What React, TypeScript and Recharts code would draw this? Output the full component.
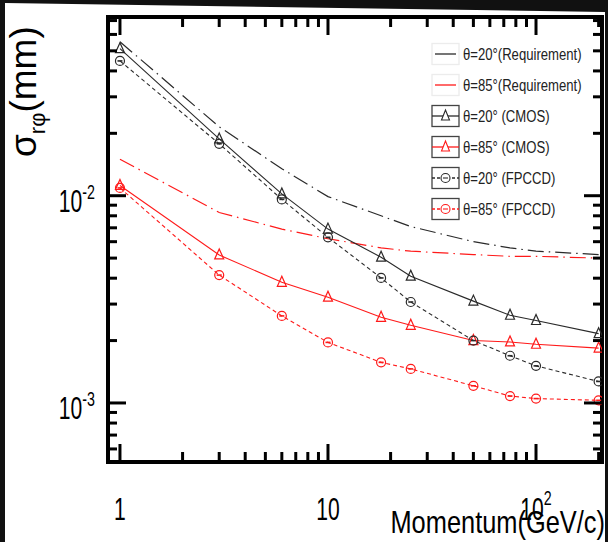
import React from 'react'
import { LineChart, Line, XAxis, YAxis, ReferenceArea } from 'recharts'

const momentum = [1, 3, 6, 10, 18, 25, 50, 75, 100, 200]
const req20 = [0.0553, 0.0215, 0.0135, 0.0099, 0.008, 0.0071, 0.006, 0.0056, 0.0054, 0.0052]
const req85 = [0.015, 0.0083, 0.0069, 0.0062, 0.0056, 0.0054, 0.0052, 0.0051, 0.0051, 0.005]
const cmos20 = [0.0512, 0.0188, 0.0102, 0.0069, 0.00505, 0.00409, 0.0031, 0.00265, 0.0025, 0.00216]
const cmos85 = [0.0112, 0.00518, 0.00382, 0.00324, 0.00259, 0.00237, 0.002, 0.00197, 0.00192, 0.00184]
const fpccd20 = [0.0447, 0.0178, 0.0096, 0.0063, 0.00401, 0.00307, 0.002, 0.00169, 0.00151, 0.00127]
const fpccd85 = [0.0109, 0.00414, 0.00263, 0.00196, 0.00157, 0.00146, 0.00121, 0.00108, 0.00105, 0.00103]

const xTicks = [1, 2, 3, 4, 5, 6, 7, 8, 9, 10, 20, 30, 40, 50, 60, 70, 80, 90, 100, 200]
const xLabels: Record<number, string[]> = { 1: ['1'], 10: ['10'], 100: ['10', '2'] }
const yTicks = [
  0.0006, 0.0007, 0.0008, 0.0009, 0.001, 0.002, 0.003, 0.004, 0.005, 0.006, 0.007, 0.008, 0.009,
  0.01, 0.02, 0.03, 0.04, 0.05, 0.06, 0.07,
]
const yLabels: Record<number, string[]> = { 0.001: ['10', '-3'], 0.01: ['10', '-2'] }

const legendLabels = [
  'θ=20°(Requirement)',
  'θ=85°(Requirement)',
  'θ=20° (CMOS)',
  'θ=85° (CMOS)',
  'θ=20° (FPCCD)',
  'θ=85° (FPCCD)',
]

const data = momentum.map((p, i) => ({
  p,
  req20: req20[i],
  req85: req85[i],
  cmos20: cmos20[i],
  cmos85: cmos85[i],
  fpccd20: fpccd20[i],
  fpccd85: fpccd85[i],
}))

const W = 608
const H = 542
const M = { top: 17, right: 6, bottom: 40, left: 48 }
const PLOT_TOP = M.top
const PLOT_RIGHT = W - M.right
const X_DOMAIN: [number, number] = [0.876, 207.6]
const Y_DOMAIN: [number, number] = [0.000519, 0.07282]

const BLACK = '#2a2a2a'
const RED = '#ff1a1a'
const SANS = "'Liberation Sans', Arial, sans-serif"
const REQ_DASH = '16 5 1.5 5'
const FP_DASH = '4 3'

// helvetica-narrow look: liberation sans squeezed horizontally
function NText({ x, y, sx, anchor, size, fill, children }: any) {
  return (
    <g transform={`translate(${x},${y}) scale(${sx},1)`}>
      <text x={0} y={0} textAnchor={anchor || 'start'} fontFamily={SANS} fontSize={size} fill={fill || '#000'}>
        {children}
      </text>
    </g>
  )
}

function XTick(props: any) {
  const { x, y, payload } = props
  const v = payload.value
  const lab = xLabels[v]
  const len = lab ? 18 : 10
  return (
    <g>
      <line x1={x} x2={x} y1={y} y2={y - len} stroke="#000" strokeWidth={3} />
      <line x1={x} x2={x} y1={PLOT_TOP} y2={PLOT_TOP + len} stroke="#000" strokeWidth={3} />
      {lab && (
        <NText x={x} y={y + 58} sx={0.68} anchor="middle" size={31}>
          {lab[0]}
          {lab[1] && <tspan dy={-15} fontSize={21}>{lab[1]}</tspan>}
        </NText>
      )}
    </g>
  )
}

function YTick(props: any) {
  const { x, y, payload } = props
  const v = payload.value
  const lab = yLabels[v]
  const len = lab ? 18 : 9
  return (
    <g>
      <line x1={x} x2={x + len} y1={y} y2={y} stroke="#000" strokeWidth={3} />
      <line x1={PLOT_RIGHT} x2={PLOT_RIGHT - len} y1={y} y2={y} stroke="#000" strokeWidth={3} />
      {lab && (
        <NText x={x - 13} y={y + 16} sx={0.68} anchor="end" size={31}>
          {lab[0]}
          <tspan dy={-13} fontSize={21}>{lab[1]}</tspan>
        </NText>
      )}
    </g>
  )
}

function tri(color: string) {
  return (p: any) => {
    const { cx, cy, index } = p
    if (cx == null || cy == null) return <g key={index} />
    return (
      <polygon key={index} points={`${cx},${cy - 6} ${cx - 4.5},${cy + 4} ${cx + 4.5},${cy + 4}`}
        fill="none" stroke={color} strokeWidth={1.2} />
    )
  }
}

function circ(color: string) {
  return (p: any) => {
    const { cx, cy, index } = p
    if (cx == null || cy == null) return <g key={index} />
    return (
      <g key={index}>
        <circle cx={cx} cy={cy} r={4.5} fill="none" stroke={color} strokeWidth={1.2} />
        <line x1={cx - 2.5} x2={cx + 2.5} y1={cy} y2={cy} stroke={color} strokeWidth={1.6} />
      </g>
    )
  }
}

function Legend() {
  const rows = [
    { color: BLACK, dash: REQ_DASH, marker: '', box: '#ececec' },
    { color: RED, dash: REQ_DASH, marker: '', box: '#ececec' },
    { color: BLACK, dash: '', marker: 'tri', box: '#444' },
    { color: RED, dash: '', marker: 'tri', box: '#444' },
    { color: BLACK, dash: FP_DASH, marker: 'circ', box: '#444' },
    { color: RED, dash: FP_DASH, marker: 'circ', box: '#444' },
  ]
  return (
    <g>
      {rows.map((r, i) => {
        const cy = 54 + i * 31
        const bx = 432
        return (
          <g key={i}>
            <rect x={bx} y={cy - 10.5} width={27} height={21} fill="#fff" stroke={r.box} strokeWidth={1.3} />
            <line x1={r.marker ? bx : bx + 3} x2={r.marker ? bx + 27 : bx + 24} y1={cy} y2={cy}
              stroke={r.color} strokeWidth={1.3} strokeDasharray={r.dash && r.marker ? '3 2' : undefined} />
            {r.marker === 'tri' && (
              <polygon points={`${bx + 13.5},${cy - 6} ${bx + 9.5},${cy + 4} ${bx + 17.5},${cy + 4}`}
                fill="#fff" stroke={r.color} strokeWidth={1.1} />
            )}
            {r.marker === 'circ' && (
              <g>
                <circle cx={bx + 13.5} cy={cy} r={4.5} fill="#fff" stroke={r.color} strokeWidth={1.1} />
                <line x1={bx + 11} x2={bx + 16} y1={cy} y2={cy} stroke={r.color} strokeWidth={1.1} />
              </g>
            )}
            <NText x={463} y={cy + 6} sx={0.82} size={16} fill="#222">{legendLabels[i]}</NText>
          </g>
        )
      })}
    </g>
  )
}

export default function App() {
  return (
    <div style={{ position: 'fixed', left: 0, top: 0, width: W, height: H, background: '#111', overflow: 'hidden' }}>
      <svg width={W} height={H} style={{ position: 'absolute', left: 0, top: 0 }}>
        <polygon points={`5,3 605,12 605,${H} 5,${H}`} fill="#fff" />
      </svg>
      <div style={{ position: 'absolute', left: 0, top: 0 }}>
        <LineChart width={W} height={H} data={data} margin={M}>
          <XAxis dataKey="p" type="number" scale="log" domain={X_DOMAIN} allowDataOverflow
            ticks={xTicks} interval={0} tick={<XTick />} tickLine={false} axisLine={false}
            tickSize={0} tickMargin={0} height={40} />
          <YAxis type="number" scale="log" domain={Y_DOMAIN} allowDataOverflow
            ticks={yTicks} interval={0} tick={<YTick />} tickLine={false} axisLine={false}
            tickSize={0} tickMargin={0} width={60} />
          <ReferenceArea x1={X_DOMAIN[0]} x2={X_DOMAIN[1]} y1={Y_DOMAIN[0]} y2={Y_DOMAIN[1]}
            fill="none" fillOpacity={0} stroke="#000" strokeWidth={4} ifOverflow="visible" />
          <Line dataKey="req20" stroke={BLACK} strokeWidth={1.2} strokeDasharray={REQ_DASH}
            dot={false} isAnimationActive={false} />
          <Line dataKey="req85" stroke={RED} strokeWidth={1.2} strokeDasharray={REQ_DASH}
            dot={false} isAnimationActive={false} />
          <Line dataKey="cmos20" stroke={BLACK} strokeWidth={1.1} dot={tri(BLACK)} isAnimationActive={false} />
          <Line dataKey="cmos85" stroke={RED} strokeWidth={1.1} dot={tri(RED)} isAnimationActive={false} />
          <Line dataKey="fpccd20" stroke={BLACK} strokeWidth={1.1} strokeDasharray={FP_DASH}
            dot={circ(BLACK)} isAnimationActive={false} />
          <Line dataKey="fpccd85" stroke={RED} strokeWidth={1.1} strokeDasharray={FP_DASH}
            dot={circ(RED)} isAnimationActive={false} />
        </LineChart>
      </div>
      <svg width={W} height={H} style={{ position: 'absolute', left: 0, top: 0, pointerEvents: 'none' }}>
        <Legend />
        <NText x={605} y={533} sx={0.82} anchor="end" size={31}>Momentum(GeV/c)</NText>
        <text transform="translate(36,157) rotate(-90)" fontFamily={SANS} fontSize={37} fill="#000">
          σ<tspan dy={9} fontSize={22}>rφ</tspan><tspan dy={-9} fontSize={37}>(mm)</tspan>
        </text>
      </svg>
    </div>
  )
}
